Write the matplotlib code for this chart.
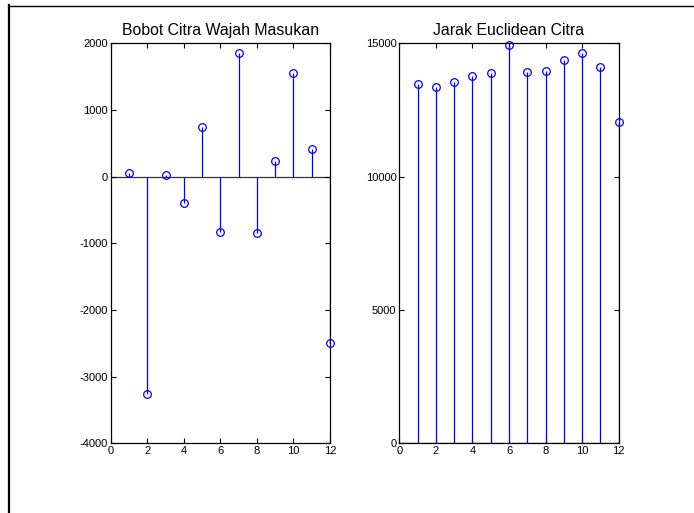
import numpy as np
import matplotlib
matplotlib.use('Agg')
import matplotlib.pyplot as plt
from matplotlib.lines import Line2D

# data
idx = np.arange(1, 13)
bobot = [60, -3267, 20, -400, 747, -827, 1850, -852, 236, 1559, 416, -2490]
jarak = [13463, 13363, 13564, 13791, 13892, 14937, 13942, 13980, 14370, 14622, 14106, 12053]
xticks = [0, 2, 4, 6, 8, 10, 12]
yticks_left = [-4000, -3000, -2000, -1000, 0, 1000, 2000]
yticks_right = [0, 5000, 10000, 15000]

plt.rcParams['font.family'] = ['Liberation Sans', 'DejaVu Sans']
plt.rcParams['axes.unicode_minus'] = False

W, H = 694, 513
fig = plt.figure(figsize=(W / 100, H / 100), dpi=100)


def px_axes(x0, x1, y0, y1):
    return fig.add_axes([x0 / W, 1 - y1 / H, (x1 - x0) / W, (y1 - y0) / H])


def stem_plot(ax, y, ylim, yticks, title):
    ax.axhline(0, color='#333333', lw=0.9, zorder=1)
    ml, sl, bl = ax.stem(idx, y, linefmt='b-', markerfmt='bo', basefmt=' ')
    ml.set_markerfacecolor('none')
    ml.set_markersize(5.5)
    ml.set_markeredgewidth(0.9)
    ml.set_clip_on(False)
    ml.set_zorder(5)
    sl.set_linewidth(0.9)
    ax.set_xlim(0, 12)
    ax.set_ylim(*ylim)
    ax.set_xticks(xticks)
    ax.set_yticks(yticks)
    ax.tick_params(direction='in', length=3.5, width=0.8, labelsize=8,
                   top=True, right=True, pad=2)
    for s in ax.spines.values():
        s.set_linewidth(0.9)
    ax.set_title(title, fontsize=11.4, pad=6)


ax1 = px_axes(110.7, 330, 43.3, 443.3)
stem_plot(ax1, bobot, (-4000, 2000), yticks_left, 'Bobot Citra Wajah Masukan')

ax2 = px_axes(399.3, 618.7, 43.3, 443.3)
stem_plot(ax2, jarak, (0, 15000), yticks_right, 'Jarak Euclidean Citra')

# frame of the original screenshot
fig.add_artist(Line2D([8.5 / W, 8.5 / W], [0, 1 - 5 / H], color='black', lw=1.6,
                      transform=fig.transFigure))
fig.add_artist(Line2D([8 / W, 1], [1 - 5.5 / H, 1 - 5.5 / H], color='black', lw=1.0,
                      transform=fig.transFigure))

fig.savefig('out.png', dpi=100)
